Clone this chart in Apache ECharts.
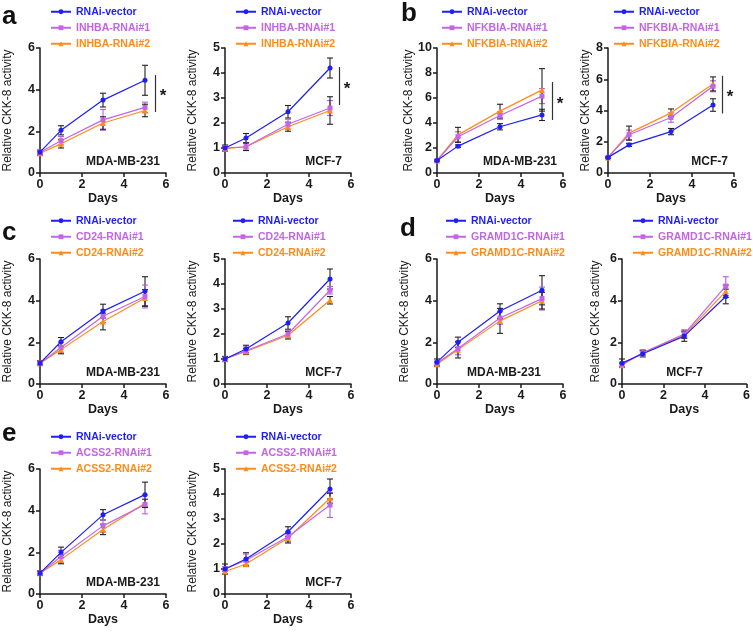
<!DOCTYPE html>
<html>
<head>
<meta charset="utf-8">
<script src="https://cdn.jsdelivr.net/npm/echarts@6/dist/echarts.min.js"></script>
<style>
  html, body { margin: 0; background: #fff; }
  #chart { width: 753px; height: 633px; }
</style>
</head>
<body>
<div id="chart"></div>
<script>
// sampling days (x values)
const days = [0, 1, 3, 5]

// a: INHBA
const inhbaNames = ['RNAi-vector', 'INHBA-RNAi#1', 'INHBA-RNAi#2']
const inhbaMdaMean = [[1.0, 2.05, 3.5, 4.45], [1.0, 1.55, 2.55, 3.15], [0.95, 1.4, 2.4, 3.0]]
const inhbaMdaErr = [[0.1, 0.22, 0.33, 0.72], [0.1, 0.2, 0.5, 0.25], [0.1, 0.2, 0.3, 0.3]]
const inhbaMcfMean = [[1.0, 1.4, 2.45, 4.2], [1.0, 1.05, 1.95, 2.6], [0.97, 1.05, 1.85, 2.5]]
const inhbaMcfErr = [[0.12, 0.18, 0.25, 0.4], [0.1, 0.15, 0.2, 0.3], [0.1, 0.15, 0.18, 0.55]]

// b: NFKBIA
const nfkbiaNames = ['RNAi-vector', 'NFKBIA-RNAi#1', 'NFKBIA-RNAi#2']
const nfkbiaMdaMean = [[1.0, 2.15, 3.7, 4.65], [1.0, 2.9, 4.6, 6.15], [1.0, 3.05, 4.95, 6.65]]
const nfkbiaMdaErr = [[0.05, 0.1, 0.25, 0.45], [0.05, 0.4, 0.3, 0.6], [0.05, 0.6, 0.55, 1.7]]
const nfkbiaMcfMean = [[1.0, 1.8, 2.65, 4.35], [1.0, 2.45, 3.55, 5.55], [1.0, 2.55, 3.85, 5.7]]
const nfkbiaMcfErr = [[0.05, 0.1, 0.2, 0.4], [0.05, 0.3, 0.3, 0.35], [0.05, 0.45, 0.25, 0.45]]

// c: CD24
const cd24Names = ['RNAi-vector', 'CD24-RNAi#1', 'CD24-RNAi#2']
const cd24MdaMean = [[1.0, 2.03, 3.5, 4.45], [1.0, 1.75, 3.25, 4.2], [1.0, 1.65, 3.0, 4.13]]
const cd24MdaErr = [[0.1, 0.2, 0.33, 0.7], [0.1, 0.25, 0.3, 0.55], [0.1, 0.2, 0.4, 0.4]]
const cd24McfMean = [[1.0, 1.4, 2.44, 4.2], [1.0, 1.33, 2.0, 3.75], [1.0, 1.3, 1.95, 3.35]]
const cd24McfErr = [[0.1, 0.15, 0.25, 0.4], [0.1, 0.15, 0.15, 0.15], [0.1, 0.12, 0.15, 0.15]]

// d: GRAMD1C
const gramd1cNames = ['RNAi-vector', 'GRAMD1C-RNAi#1', 'GRAMD1C-RNAi#2']
const gramd1cMdaMean = [[1.05, 2.0, 3.5, 4.5], [1.0, 1.7, 3.17, 4.1], [0.95, 1.65, 3.03, 4.0]]
const gramd1cMdaErr = [[0.15, 0.25, 0.35, 0.7], [0.1, 0.3, 0.3, 0.55], [0.1, 0.4, 0.6, 0.4]]
const gramd1cMcfMean = [[1.0, 1.45, 2.3, 4.2], [0.95, 1.5, 2.4, 4.7], [0.9, 1.5, 2.35, 4.45]]
const gramd1cMcfErr = [[0.2, 0.15, 0.25, 0.35], [0.1, 0.15, 0.2, 0.45], [0.1, 0.1, 0.15, 0.3]]

// e: ACSS2
const acss2Names = ['RNAi-vector', 'ACSS2-RNAi#1', 'ACSS2-RNAi#2']
const acss2MdaMean = [[1.0, 2.0, 3.8, 4.77], [1.0, 1.8, 3.27, 4.3], [1.0, 1.65, 3.1, 4.35]]
const acss2MdaErr = [[0.1, 0.25, 0.25, 0.6], [0.1, 0.3, 0.3, 0.45], [0.1, 0.2, 0.25, 0.2]]
const acss2McfMean = [[1.0, 1.4, 2.49, 4.2], [1.0, 1.35, 2.29, 3.56], [0.9, 1.2, 2.24, 3.83]]
const acss2McfErr = [[0.2, 0.25, 0.2, 0.4], [0.1, 0.25, 0.2, 0.5], [0.1, 0.1, 0.2, 0.2]]

// significance brackets: [x, from, to]
const inhbaMdaSig = [5.48, 2.93, 4.7]
const inhbaMcfSig = [5.43, 2.72, 4.24]
const nfkbiaMdaSig = [5.48, 4.24, 7.28]
const nfkbiaMcfSig = [5.43, 3.81, 6.22]

const colors = ['#1f1ff5', '#c266e6', '#ff8c1a']
const errColors = ['#222', '#b060d8', '#222']
const symbols = ['circle', 'rect', 'triangle']
const FONT = '"Liberation Sans", Arial, sans-serif'

// layout of each small panel (pixels)
const panels = [
  { names: inhbaNames, mean: inhbaMdaMean, err: inhbaMdaErr, sig: inhbaMdaSig, yMax: 6, yStep: 2,
    left: 40, top: 48, gap: 26, legend: [50, 6], cell: 'MDA-MB-231', cellRight: 160, letter: ['a', 2, 17] },
  { names: inhbaNames, mean: inhbaMcfMean, err: inhbaMcfErr, sig: inhbaMcfSig, yMax: 5, yStep: 1,
    left: 225, top: 48, gap: 26, legend: [235, 6], cell: 'MCF-7', cellRight: 342 },
  { names: nfkbiaNames, mean: nfkbiaMdaMean, err: nfkbiaMdaErr, sig: nfkbiaMdaSig, yMax: 10, yStep: 2,
    left: 437, top: 48, gap: 19, legend: [441, 6], cell: 'MDA-MB-231', cellRight: 557, letter: ['b', 401, 14] },
  { names: nfkbiaNames, mean: nfkbiaMcfMean, err: nfkbiaMcfErr, sig: nfkbiaMcfSig, yMax: 8, yStep: 2,
    left: 608, top: 48, gap: 16, legend: [613, 6], cell: 'MCF-7', cellRight: 728 },
  { names: cd24Names, mean: cd24MdaMean, err: cd24MdaErr, yMax: 6, yStep: 2,
    left: 40, top: 259, gap: 26, legend: [50, 215], cell: 'MDA-MB-231', cellRight: 160, letter: ['c', 2, 233] },
  { names: cd24Names, mean: cd24McfMean, err: cd24McfErr, yMax: 5, yStep: 1,
    left: 225, top: 259, gap: 26, legend: [232, 215], cell: 'MCF-7', cellRight: 342 },
  { names: gramd1cNames, mean: gramd1cMdaMean, err: gramd1cMdaErr, yMax: 6, yStep: 2,
    left: 437, top: 259, gap: 26, legend: [445, 215], cell: 'MDA-MB-231', cellRight: 541, letter: ['d', 400, 229] },
  { names: gramd1cNames, mean: gramd1cMcfMean, err: gramd1cMcfErr, yMax: 6, yStep: 2,
    left: 622, top: 259, gap: 20, legend: [632, 215], cell: 'MCF-7', cellRight: 703 },
  { names: acss2Names, mean: acss2MdaMean, err: acss2MdaErr, yMax: 6, yStep: 2,
    left: 40, top: 469, gap: 26, legend: [50, 431], cell: 'MDA-MB-231', cellRight: 160, letter: ['e', 2, 434] },
  { names: acss2Names, mean: acss2McfMean, err: acss2McfErr, yMax: 5, yStep: 1,
    left: 225, top: 469, gap: 26, legend: [235, 431], cell: 'MCF-7', cellRight: 342 }
]

const W = 126, H = 125

const errorBarRender = (params, api) => {
  const x = api.value(0)
  const top = api.coord([x, api.value(2)])
  const bot = api.coord([x, api.value(1)])
  const c = api.visual('color')
  const cap = 3
  const st = { stroke: c, lineWidth: 1.1 }
  return {
    type: 'group',
    children: [
      { type: 'line', shape: { x1: top[0], y1: top[1], x2: bot[0], y2: bot[1] }, style: st },
      { type: 'line', shape: { x1: top[0] - cap, y1: top[1], x2: top[0] + cap, y2: top[1] }, style: st },
      { type: 'line', shape: { x1: bot[0] - cap, y1: bot[1], x2: bot[0] + cap, y2: bot[1] }, style: st }
    ]
  }
}

const grid = [], xAxis = [], yAxis = [], series = [], legend = [], graphic = []
const axisLine = { show: true, lineStyle: { color: '#1a1a1a', width: 1.5 } }
const axisTick = { show: true, length: 4, lineStyle: { color: '#1a1a1a', width: 1.5 } }
const tickLabel = { color: '#1a1a1a', fontSize: 12.5, fontWeight: 'bold', fontFamily: FONT }

panels.forEach((p, i) => {
  grid.push({ left: p.left, top: p.top, width: W, height: H })
  xAxis.push({
    type: 'value', gridIndex: i, min: 0, max: 6, interval: 2,
    name: 'Days', nameLocation: 'middle', nameGap: 19,
    nameTextStyle: { color: '#1a1a1a', fontSize: 12.5, fontWeight: 'bold', fontFamily: FONT },
    axisLine, axisTick, splitLine: { show: false },
    axisLabel: { ...tickLabel, margin: 5 }
  })
  yAxis.push({
    type: 'value', gridIndex: i, min: 0, max: p.yMax, interval: p.yStep,
    name: 'Relative CKK-8 activity', nameLocation: 'middle', nameGap: p.gap, nameRotate: 90,
    nameTextStyle: { color: '#1a1a1a', fontSize: 12, fontFamily: FONT },
    axisLine, axisTick, splitLine: { show: false },
    axisLabel: { ...tickLabel, margin: 5 }
  })
  p.names.forEach((name, g) => {
    const s = {
      name, type: 'line', xAxisIndex: i, yAxisIndex: i,
      data: days.map((d, k) => [d, p.mean[g][k]]),
      symbol: symbols[g], symbolSize: g === 2 ? 6 : 5,
      itemStyle: { color: colors[g] },
      lineStyle: { color: colors[g], width: 1.2 },
      z: 5 - g,
      animation: false
    }
    if (g === 0 && p.sig) {
      const [sx, sFrom, sTo] = p.sig
      s.markLine = {
        silent: true, symbol: 'none', animation: false,
        label: { show: false },
        lineStyle: { color: '#333', width: 1.2, type: 'solid' },
        data: [[{ coord: [sx, sFrom] }, { coord: [sx, sTo] }]]
      }
      s.markPoint = {
        silent: true, symbol: 'circle', symbolSize: 0, animation: false,
        label: { show: true, formatter: '*', color: '#1a1a1a', fontSize: 17, fontWeight: 'bold', fontFamily: FONT, offset: [0, 3] },
        data: [{ coord: [sx + 0.38, (sFrom + sTo) / 2] }]
      }
    }
    series.push(s)
    series.push({
      name: name + ' error', type: 'custom', xAxisIndex: i, yAxisIndex: i,
      renderItem: errorBarRender,
      itemStyle: { color: errColors[g] },
      encode: { x: 0, y: [1, 2] },
      data: days.map((d, k) => [d, p.mean[g][k] - p.err[g][k], p.mean[g][k] + p.err[g][k]]),
      z: 2, silent: true, animation: false
    })
  })
  legend.push({
    orient: 'vertical', left: p.legend[0], top: p.legend[1], padding: 0,
    itemWidth: 20, itemHeight: 6, itemGap: 4.5,
    selectedMode: false,
    textStyle: { fontSize: 10.5, fontWeight: 'bold', fontFamily: FONT, lineHeight: 11.5 },
    data: p.names.map((n, g) => ({ name: n, textStyle: { color: colors[g] } }))
  })
  graphic.push({
    type: 'text', x: p.cellRight, y: p.top + H - 17,
    style: { text: p.cell, fill: '#1a1a1a', font: 'bold 12px ' + FONT, align: 'right' }
  })
  if (p.letter) {
    graphic.push({
      type: 'text', x: p.letter[1], y: p.letter[2],
      style: { text: p.letter[0], fill: '#111', font: 'bold 26px ' + FONT, verticalAlign: 'middle' }
    })
  }
})

const chart = echarts.init(document.getElementById('chart'))
chart.setOption({
  backgroundColor: '#fff',
  animation: false,
  grid, xAxis, yAxis, legend, series, graphic
})
window.addEventListener('resize', () => chart.resize())
</script>
</body>
</html>
